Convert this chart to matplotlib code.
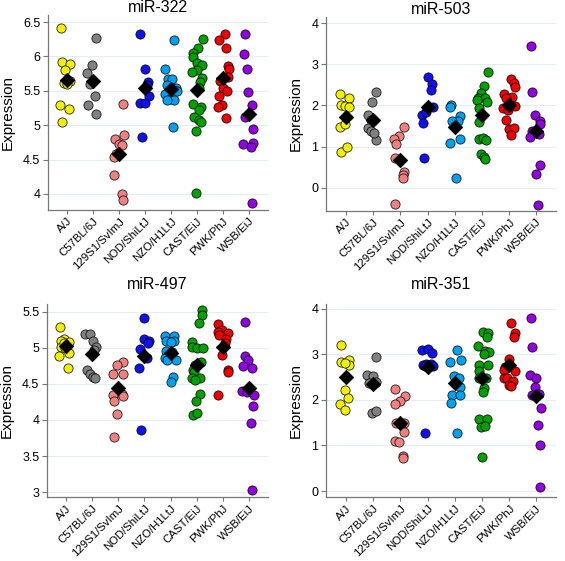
import matplotlib
matplotlib.use("Agg")
import matplotlib.pyplot as plt

strains = ["A/J", "C57BL/6J", "129S1/SvImJ", "NOD/ShiLtJ",
           "NZO/H1LtJ", "CAST/EiJ", "PWK/PhJ", "WSB/EiJ"]
colors = ["#f0f000", "#808080", "#f08080", "#1010f0",
          "#00a0f0", "#00a000", "#f00000", "#9000e0"]

# miR-322
mir322_vals = [
    [6.41, 5.92, 5.89, 5.80, 5.62, 5.64, 5.60, 5.29, 5.23, 5.05],
    [6.27, 5.87, 5.76, 5.60, 5.42, 5.30, 5.16],
    [5.31, 4.86, 4.80, 4.73, 4.71, 4.60, 4.58, 4.54, 4.28, 4.00, 3.91],
    [6.32, 5.81, 5.63, 5.58, 5.43, 5.33, 5.33, 4.83],
    [6.24, 5.81, 5.67, 5.67, 5.58, 5.54, 5.48, 5.45, 5.50, 5.38, 5.36, 5.36, 4.98],
    [6.25, 6.12, 6.05, 5.99, 5.90, 5.88, 5.80, 5.77, 5.69, 5.63, 5.54, 5.31,
     5.27, 5.22, 5.12, 5.07, 5.04, 4.92, 4.01],
    [6.33, 6.24, 6.12, 5.86, 5.82, 5.70, 5.64, 5.54, 5.50, 5.42, 5.30, 5.27, 5.11],
    [6.32, 6.04, 5.81, 5.48, 5.29, 5.12, 4.95, 4.73, 4.74, 4.68, 3.87],
]
mir322_jit = [
    [-0.23, -0.2, 0.1, -0.09, -0.13, 0.1, 0.0, -0.26, 0.06, -0.19],
    [0.13, -0.03, -0.23, -0.1, 0.06, -0.18, 0.1],
    [0.14, 0.18, -0.15, 0.01, 0.1, -0.03, -0.12, -0.18, -0.18, 0.1, 0.15],
    [-0.2, 0.0, 0.1, 0.08, 0.14, -0.18, 0.0, -0.13],
    [0.13, -0.22, -0.13, 0.03, -0.17, 0.19, -0.13, -0.23, 0.22, -0.04, 0.13, -0.17, 0.09],
    [0.22, 0.03, -0.17, -0.17, 0.0, 0.19, 0.0, -0.19, 0.19, 0.12, 0.08, -0.17,
     0.15, 0.09, -0.13, 0.06, 0.15, -0.06, -0.03],
    [0.08, -0.15, 0.13, 0.19, 0.22, 0.18, -0.1, -0.01, 0.15, -0.17, -0.04, -0.2, 0.1],
    [-0.15, -0.19, -0.08, -0.06, 0.12, -0.14, 0.15, -0.23, 0.15, 0.09, 0.13],
]
mir322_means = [5.66, 5.64, 4.58, 5.54, 5.53, 5.51, 5.69, 5.17]

# miR-503
mir503_vals = [
    [2.27, 2.19, 2.02, 1.98, 1.95, 1.48, 1.54, 0.88, 1.00],
    [2.33, 2.09, 1.77, 1.65, 1.46, 1.38, 1.17, 1.32],
    [1.48, 1.25, 1.19, 1.06, 0.72, 0.39, 0.31, 0.24, -0.38],
    [2.69, 2.53, 2.37, 1.97, 1.94, 1.78, 1.85, 1.58, 0.73],
    [2.01, 1.96, 1.74, 1.63, 1.63, 1.50, 1.18, 1.10, 0.23],
    [2.81, 2.47, 2.29, 2.19, 2.17, 2.09, 2.13, 1.93, 1.60, 1.18, 1.20, 1.15,
     0.82, 0.76, 0.70],
    [2.64, 2.55, 2.44, 2.27, 2.20, 2.19, 1.98, 1.93, 1.89, 1.64, 1.44, 1.45, 1.28],
    [3.44, 2.33, 1.77, 1.63, 1.54, 1.37, 1.31, 1.24, 0.55, 0.33, -0.42],
]
mir503_jit = [
    [-0.21, 0.12, -0.17, -0.05, 0.1, -0.21, -0.05, -0.17, 0.05],
    [0.12, -0.04, -0.2, -0.07, -0.17, -0.07, 0.09, 0.02],
    [0.15, -0.06, -0.22, -0.16, -0.18, 0.15, 0.1, 0.09, -0.21],
    [0.0, 0.15, 0.11, 0.21, -0.01, -0.2, -0.07, -0.16, -0.12],
    [-0.15, -0.17, 0.2, 0.12, -0.1, 0.0, 0.18, -0.17, 0.06],
    [0.22, 0.06, -0.02, -0.15, 0.12, 0.18, -0.18, -0.1, -0.12, -0.12, 0.04, 0.16,
     -0.04, 0.09, 0.1],
    [0.05, 0.16, 0.2, -0.2, 0.1, -0.13, 0.2, -0.22, -0.05, -0.13, 0.01, 0.16, 0.07],
    [-0.2, -0.16, -0.04, 0.15, 0.12, -0.16, 0.09, -0.22, 0.12, -0.01, 0.06],
]
mir503_means = [1.73, 1.65, 0.67, 1.95, 1.48, 1.77, 2.02, 1.39]

# miR-497
mir497_vals = [
    [5.29, 5.12, 5.10, 5.09, 5.02, 5.00, 4.93, 4.89, 4.72, 5.07],
    [5.19, 5.19, 5.10, 5.01, 4.97, 4.69, 4.64, 4.60, 4.58],
    [4.81, 4.76, 4.64, 4.64, 4.35, 4.36, 4.33, 4.26, 4.08, 3.77],
    [5.42, 5.13, 5.10, 5.07, 4.98, 4.86, 4.72, 3.86],
    [5.16, 5.16, 5.10, 5.10, 5.08, 4.96, 4.95, 4.86, 4.84, 4.83, 4.60, 4.53],
    [5.53, 5.46, 5.35, 5.09, 5.02, 5.00, 5.00, 4.80, 4.77, 4.69, 4.67, 4.59,
     4.59, 4.56, 4.36, 4.26, 4.07, 4.10],
    [5.33, 5.25, 5.22, 5.21, 5.18, 5.12, 5.07, 4.90, 4.70, 4.67, 4.35],
    [5.36, 4.89, 4.84, 4.75, 4.72, 4.40, 4.39, 4.35, 4.19, 3.96, 3.03],
]
mir497_jit = [
    [-0.22, -0.09, -0.19, 0.13, -0.19, -0.04, 0.13, -0.26, 0.06, -0.08],
    [-0.29, -0.08, 0.05, 0.15, 0.09, -0.2, -0.08, 0.03, 0.12],
    [0.17, -0.03, -0.22, 0.19, -0.19, 0.13, 0.17, -0.17, -0.06, -0.17],
    [0.0, -0.03, 0.17, 0.13, -0.15, 0.1, -0.21, -0.13],
    [-0.23, 0.13, -0.17, 0.15, 0.0, -0.17, 0.06, -0.23, 0.22, -0.13, 0.1, 0.0],
    [0.19, 0.22, 0.1, -0.19, -0.19, 0.03, 0.26, 0.15, -0.08, -0.13, -0.1, -0.17,
     0.13, -0.08, 0.13, -0.04, -0.14, 0.03],
    [-0.17, -0.04, -0.2, 0.19, -0.13, 0.13, 0.09, -0.04, 0.18, 0.2, -0.2],
    [-0.17, -0.17, -0.04, -0.23, 0.1, -0.26, -0.08, 0.18, 0.15, 0.09, 0.13],
]
mir497_means = [5.03, 4.92, 4.45, 4.89, 4.93, 4.76, 5.02, 4.44]

# miR-351
mir351_vals = [
    [3.20, 2.82, 2.88, 2.76, 2.80, 2.22, 2.04, 1.90, 1.78],
    [2.95, 2.55, 2.53, 2.36, 2.37, 2.39, 1.72, 1.76],
    [2.23, 2.09, 1.98, 1.90, 1.49, 1.50, 1.47, 1.30, 1.10, 1.07, 0.77, 0.72],
    [3.09, 3.11, 3.02, 2.76, 2.78, 2.78, 2.75, 2.74, 1.28],
    [3.09, 2.87, 2.82, 2.52, 2.47, 2.29, 2.10, 2.11, 1.94, 1.28],
    [3.49, 3.47, 3.37, 3.17, 3.07, 3.05, 3.00, 2.76, 2.76, 2.63, 2.49, 2.49,
     2.25, 2.17, 1.59, 1.59, 1.40, 1.42, 0.75],
    [3.68, 3.47, 3.37, 2.89, 2.71, 2.66, 2.64, 2.49, 2.47, 2.41, 2.32, 2.31],
    [3.80, 3.15, 2.54, 2.47, 2.29, 2.10, 2.13, 1.83, 1.45, 1.01, 0.08],
]
mir351_jit = [
    [-0.17, -0.18, 0.1, 0.13, -0.05, -0.02, 0.07, -0.21, -0.05],
    [0.12, -0.22, -0.01, -0.16, 0.06, 0.12, -0.04, 0.12],
    [-0.18, 0.16, -0.02, -0.21, -0.15, 0.15, 0.02, 0.12, -0.18, -0.04, 0.09, 0.09],
    [-0.22, 0.02, 0.17, -0.16, -0.04, 0.11, 0.21, -0.1, -0.1],
    [0.1, 0.22, -0.16, -0.02, 0.16, 0.18, -0.1, 0.21, -0.15, 0.09],
    [0.04, 0.22, 0.18, -0.15, 0.12, 0.25, 0.06, -0.09, 0.22, -0.1, -0.12, 0.16,
     0.06, 0.04, -0.09, 0.18, -0.02, 0.12, 0.0],
    [0.07, 0.22, 0.17, -0.01, -0.15, -0.2, 0.2, -0.2, -0.07, 0.13, -0.02, 0.07],
    [-0.2, -0.16, -0.22, 0.0, -0.04, -0.16, 0.09, 0.17, 0.06, 0.15, 0.12],
]
mir351_means = [2.50, 2.34, 1.49, 2.71, 2.36, 2.48, 2.76, 2.09]

panels = [
    ("miR-322", mir322_vals, mir322_jit, mir322_means, [4, 4.5, 5, 5.5, 6, 6.5], (3.77, 6.6)),
    ("miR-503", mir503_vals, mir503_jit, mir503_means, [0, 1, 2, 3, 4], (-0.56, 4.15)),
    ("miR-497", mir497_vals, mir497_jit, mir497_means, [3, 3.5, 4, 4.5, 5, 5.5], (2.93, 5.61)),
    ("miR-351", mir351_vals, mir351_jit, mir351_means, [0, 1, 2, 3, 4], (-0.13, 4.1)),
]

# axes boxes in figure fractions [left, bottom, width, height], title pad (pt)
boxes = [
    ([0.085, 0.626, 0.389, 0.347], 1.5),
    ([0.577, 0.624, 0.407, 0.346], 1.5),
    ([0.083, 0.114, 0.391, 0.344], 11),
    ([0.577, 0.114, 0.407, 0.344], 11),
]

plt.rcParams["font.family"] = ["Liberation Sans", "DejaVu Sans"]
fig = plt.figure(figsize=(5.65, 5.61), dpi=100)
spine_col = "#777777"

for (title, vals, jit, means, yticks, ylim), (box, tpad) in zip(panels, boxes):
    ax = fig.add_axes(box)
    for i, (v, j) in enumerate(zip(vals, jit)):
        xs = [i + d for d in j]
        ax.scatter(xs, v, s=44, color=colors[i], edgecolors="black",
                   linewidths=0.5, zorder=3)
    ax.scatter(range(len(strains)), means, marker="D", s=55, color="black",
               edgecolors="black", linewidths=0.5, zorder=4)
    ax.set_xlim(-0.73, 7.72)
    ax.set_ylim(*ylim)
    ax.set_yticks(yticks)
    ax.set_yticklabels([f"{t:g}" for t in yticks], fontsize=9)
    ax.set_xticks(range(len(strains)))
    ax.set_xticklabels(strains, rotation=45, ha="right",
                       rotation_mode="anchor", fontsize=8.2)
    ax.grid(axis="y", color="#e4eef0", lw=0.8, zorder=0)
    ax.set_axisbelow(True)
    for s in ("top", "right"):
        ax.spines[s].set_visible(False)
    for s in ("left", "bottom"):
        ax.spines[s].set_color(spine_col)
        ax.spines[s].set_linewidth(0.9)
    ax.tick_params(axis="y", color=spine_col, length=3.5, width=0.8, pad=2)
    ax.tick_params(axis="x", color=spine_col, length=3, width=0.8, pad=1.5)
    ax.set_ylabel("Expression", fontsize=11, labelpad=6)
    ax.set_title(title, fontsize=11.5, pad=tpad)

fig.savefig("out.png", dpi=100)
